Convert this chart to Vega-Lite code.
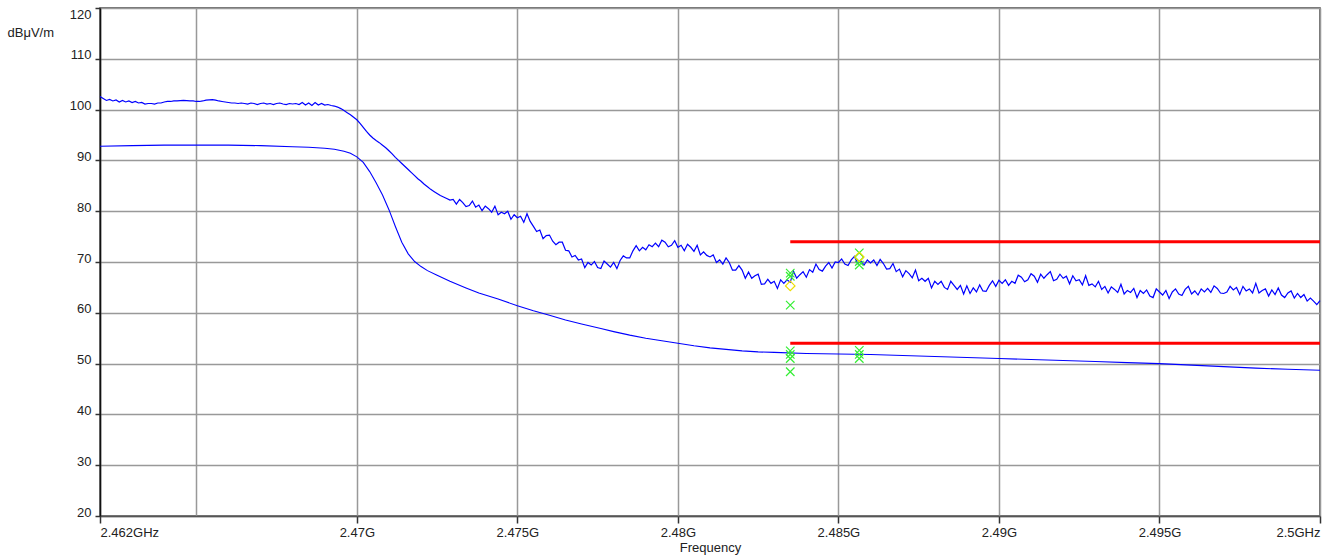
{
  "$schema": "https://vega.github.io/schema/vega-lite/v6.json",
  "width": 1220,
  "height": 508,
  "autosize": {"type": "none"},
  "padding": {"left": 100, "top": 8, "right": 13, "bottom": 43},
  "background": "white",
  "config": {
    "font": "Liberation Sans",
    "view": {"stroke": "#444", "strokeWidth": 1.5}
  },
  "datasets": {
    "pk": [
{"f":2.4620,"v":102.6},{"f":2.4621,"v":102.2},{"f":2.4622,"v":101.8},{"f":2.4623,"v":102.0},{"f":2.4624,"v":101.7},{"f":2.4625,"v":101.9},{"f":2.4626,"v":101.5},{"f":2.4627,"v":101.8},{"f":2.4628,"v":101.5},{"f":2.4629,"v":101.7},
{"f":2.4630,"v":101.4},{"f":2.4631,"v":101.6},{"f":2.4632,"v":101.3},{"f":2.4633,"v":101.4},{"f":2.4634,"v":101.1},{"f":2.4635,"v":101.2},{"f":2.4636,"v":101.2},{"f":2.4637,"v":101.1},{"f":2.4638,"v":101.3},{"f":2.4639,"v":101.3},
{"f":2.4640,"v":101.5},{"f":2.4641,"v":101.6},{"f":2.4642,"v":101.6},{"f":2.4643,"v":101.7},{"f":2.4644,"v":101.7},{"f":2.4645,"v":101.75},{"f":2.4646,"v":101.8},{"f":2.4647,"v":101.75},{"f":2.4648,"v":101.7},{"f":2.4649,"v":101.7},
{"f":2.4650,"v":101.6},{"f":2.4651,"v":101.6},{"f":2.4652,"v":101.7},{"f":2.4653,"v":101.85},{"f":2.4654,"v":101.9},{"f":2.4655,"v":101.95},{"f":2.4656,"v":101.85},{"f":2.4657,"v":101.7},{"f":2.4658,"v":101.6},{"f":2.4659,"v":101.5},
{"f":2.4660,"v":101.4},{"f":2.4661,"v":101.3},{"f":2.4662,"v":101.3},{"f":2.4663,"v":101.2},{"f":2.4664,"v":101.3},{"f":2.4665,"v":101.2},{"f":2.4666,"v":101.1},{"f":2.4667,"v":101.3},{"f":2.4668,"v":101.2},{"f":2.4669,"v":101.0},
{"f":2.4670,"v":101.2},{"f":2.4671,"v":101.3},{"f":2.4672,"v":101.1},{"f":2.4673,"v":101.2},{"f":2.4674,"v":101.0},{"f":2.4675,"v":101.2},{"f":2.4676,"v":101.3},{"f":2.4677,"v":101.1},{"f":2.4678,"v":101.0},{"f":2.4679,"v":101.2},
{"f":2.4680,"v":101.1},{"f":2.4681,"v":101.2},{"f":2.4682,"v":101.0},{"f":2.4683,"v":101.4},{"f":2.4684,"v":100.9},{"f":2.4685,"v":101.3},{"f":2.4686,"v":100.8},{"f":2.4687,"v":101.4},{"f":2.4688,"v":100.9},{"f":2.4689,"v":101.2},
{"f":2.4690,"v":100.9},{"f":2.4691,"v":101.0},{"f":2.4692,"v":100.8},{"f":2.4693,"v":100.7},{"f":2.4694,"v":100.5},{"f":2.4695,"v":100.2},{"f":2.4696,"v":99.8},{"f":2.4697,"v":99.4},{"f":2.4698,"v":99.0},{"f":2.4699,"v":98.5},
{"f":2.4700,"v":98.0},{"f":2.4701,"v":97.3},{"f":2.4702,"v":96.5},{"f":2.4703,"v":95.7},{"f":2.4704,"v":95.0},{"f":2.4705,"v":94.4},{"f":2.4706,"v":93.9},{"f":2.4707,"v":93.5},{"f":2.4708,"v":93.0},{"f":2.4709,"v":92.5},
{"f":2.4710,"v":91.9},{"f":2.4711,"v":91.3},{"f":2.4712,"v":90.6},{"f":2.4713,"v":90.0},{"f":2.4714,"v":89.4},{"f":2.4715,"v":88.8},{"f":2.4716,"v":88.2},{"f":2.4717,"v":87.6},{"f":2.4718,"v":87.0},{"f":2.4719,"v":86.4},
{"f":2.4720,"v":85.9},{"f":2.4721,"v":85.3},{"f":2.4722,"v":84.8},{"f":2.4723,"v":84.3},{"f":2.4724,"v":83.9},{"f":2.4725,"v":83.5},{"f":2.4726,"v":83.1},{"f":2.4727,"v":82.8},{"f":2.4728,"v":82.5},{"f":2.4729,"v":82.2},
{"f":2.4730,"v":82.3},{"f":2.4731,"v":81.4},{"f":2.4732,"v":82.3},{"f":2.4733,"v":81.7},{"f":2.4734,"v":80.9},{"f":2.4735,"v":81.1},{"f":2.4736,"v":82.0},{"f":2.4737,"v":80.8},{"f":2.4738,"v":81.2},{"f":2.4739,"v":80.1},
{"f":2.4740,"v":81.0},{"f":2.4741,"v":80.5},{"f":2.4742,"v":79.8},{"f":2.4743,"v":81.0},{"f":2.4744,"v":79.3},{"f":2.4745,"v":79.8},{"f":2.4746,"v":79.5},{"f":2.4747,"v":80.0},{"f":2.4748,"v":78.4},{"f":2.4749,"v":79.3},
{"f":2.4750,"v":78.7},{"f":2.4751,"v":79.0},{"f":2.4752,"v":77.8},{"f":2.4753,"v":79.5},{"f":2.4754,"v":78.0},{"f":2.4755,"v":77.0},{"f":2.4756,"v":76.0},{"f":2.4757,"v":76.3},{"f":2.4758,"v":74.6},{"f":2.4759,"v":75.2},
{"f":2.4760,"v":75.3},{"f":2.4761,"v":74.1},{"f":2.4762,"v":73.4},{"f":2.4763,"v":73.9},{"f":2.4764,"v":73.9},{"f":2.4765,"v":72.3},{"f":2.4766,"v":72.2},{"f":2.4767,"v":71.0},{"f":2.4768,"v":71.3},{"f":2.4769,"v":70.4},
{"f":2.4770,"v":70.6},{"f":2.4771,"v":68.9},{"f":2.4772,"v":69.9},{"f":2.4773,"v":69.4},{"f":2.4774,"v":70.1},{"f":2.4775,"v":68.9},{"f":2.4776,"v":68.7},{"f":2.4777,"v":70.2},{"f":2.4778,"v":69.6},{"f":2.4779,"v":69.0},
{"f":2.4780,"v":69.9},{"f":2.4781,"v":68.7},{"f":2.4782,"v":70.3},{"f":2.4783,"v":71.2},{"f":2.4784,"v":70.8},{"f":2.4785,"v":70.8},{"f":2.4786,"v":72.2},{"f":2.4787,"v":73.2},{"f":2.4788,"v":72.2},{"f":2.4789,"v":72.9},
{"f":2.4790,"v":72.4},{"f":2.4791,"v":73.4},{"f":2.4792,"v":73.0},{"f":2.4793,"v":73.7},{"f":2.4794,"v":73.0},{"f":2.4795,"v":74.3},{"f":2.4796,"v":73.9},{"f":2.4797,"v":73.0},{"f":2.4798,"v":73.3},{"f":2.4799,"v":74.2},
{"f":2.4800,"v":72.9},{"f":2.4801,"v":73.3},{"f":2.4802,"v":72.2},{"f":2.4803,"v":73.5},{"f":2.4804,"v":72.9},{"f":2.4805,"v":72.1},{"f":2.4806,"v":73.3},{"f":2.4807,"v":71.4},{"f":2.4808,"v":72.0},{"f":2.4809,"v":71.3},
{"f":2.4810,"v":71.0},{"f":2.4811,"v":71.4},{"f":2.4812,"v":69.9},{"f":2.4813,"v":70.4},{"f":2.4814,"v":69.6},{"f":2.4815,"v":70.8},{"f":2.4816,"v":69.9},{"f":2.4817,"v":68.4},{"f":2.4818,"v":68.4},{"f":2.4819,"v":69.3},
{"f":2.4820,"v":68.4},{"f":2.4821,"v":66.8},{"f":2.4822,"v":68.0},{"f":2.4823,"v":66.8},{"f":2.4824,"v":67.3},{"f":2.4825,"v":67.6},{"f":2.4826,"v":65.6},{"f":2.4827,"v":65.7},{"f":2.4828,"v":66.6},{"f":2.4829,"v":65.8},
{"f":2.4830,"v":66.2},{"f":2.4831,"v":64.8},{"f":2.4832,"v":66.5},{"f":2.4833,"v":65.8},{"f":2.4834,"v":66.5},{"f":2.4835,"v":66.0},{"f":2.4836,"v":68.2},{"f":2.4837,"v":66.8},{"f":2.4838,"v":67.5},{"f":2.4839,"v":68.1},
{"f":2.4840,"v":67.0},{"f":2.4841,"v":68.5},{"f":2.4842,"v":68.0},{"f":2.4843,"v":69.6},{"f":2.4844,"v":68.5},{"f":2.4845,"v":68.2},{"f":2.4846,"v":69.2},{"f":2.4847,"v":69.9},{"f":2.4848,"v":68.8},{"f":2.4849,"v":70.0},
{"f":2.4850,"v":69.9},{"f":2.4851,"v":70.6},{"f":2.4852,"v":69.6},{"f":2.4853,"v":69.3},{"f":2.4854,"v":70.4},{"f":2.4855,"v":71.1},{"f":2.4856,"v":69.7},{"f":2.4857,"v":70.2},{"f":2.4858,"v":69.4},{"f":2.4859,"v":70.4},
{"f":2.4860,"v":69.8},{"f":2.4861,"v":70.4},{"f":2.4862,"v":69.3},{"f":2.4863,"v":70.5},{"f":2.4864,"v":69.7},{"f":2.4865,"v":68.6},{"f":2.4866,"v":68.7},{"f":2.4867,"v":69.7},{"f":2.4868,"v":68.1},{"f":2.4869,"v":68.6},
{"f":2.4870,"v":67.1},{"f":2.4871,"v":68.3},{"f":2.4872,"v":67.7},{"f":2.4873,"v":66.9},{"f":2.4874,"v":68.4},{"f":2.4875,"v":66.3},{"f":2.4876,"v":66.8},{"f":2.4877,"v":66.2},{"f":2.4878,"v":66.8},{"f":2.4879,"v":64.9},
{"f":2.4880,"v":66.2},{"f":2.4881,"v":65.6},{"f":2.4882,"v":66.2},{"f":2.4883,"v":65.0},{"f":2.4884,"v":64.6},{"f":2.4885,"v":66.2},{"f":2.4886,"v":65.4},{"f":2.4887,"v":64.6},{"f":2.4888,"v":65.4},{"f":2.4889,"v":63.7},
{"f":2.4890,"v":65.3},{"f":2.4891,"v":63.8},{"f":2.4892,"v":64.9},{"f":2.4893,"v":64.1},{"f":2.4894,"v":65.5},{"f":2.4895,"v":64.3},{"f":2.4896,"v":64.2},{"f":2.4897,"v":65.4},{"f":2.4898,"v":66.3},{"f":2.4899,"v":65.2},
{"f":2.4900,"v":66.4},{"f":2.4901,"v":65.8},{"f":2.4902,"v":66.5},{"f":2.4903,"v":65.4},{"f":2.4904,"v":66.2},{"f":2.4905,"v":65.8},{"f":2.4906,"v":67.4},{"f":2.4907,"v":67.0},{"f":2.4908,"v":66.1},{"f":2.4909,"v":66.5},
{"f":2.4910,"v":67.7},{"f":2.4911,"v":67.2},{"f":2.4912,"v":66.0},{"f":2.4913,"v":67.6},{"f":2.4914,"v":66.8},{"f":2.4915,"v":67.5},{"f":2.4916,"v":68.1},{"f":2.4917,"v":66.3},{"f":2.4918,"v":66.6},{"f":2.4919,"v":67.6},
{"f":2.4920,"v":66.8},{"f":2.4921,"v":67.2},{"f":2.4922,"v":65.7},{"f":2.4923,"v":67.3},{"f":2.4924,"v":66.3},{"f":2.4925,"v":66.5},{"f":2.4926,"v":65.5},{"f":2.4927,"v":67.3},{"f":2.4928,"v":65.4},{"f":2.4929,"v":65.7},
{"f":2.4930,"v":65.1},{"f":2.4931,"v":66.2},{"f":2.4932,"v":64.6},{"f":2.4933,"v":65.2},{"f":2.4934,"v":63.9},{"f":2.4935,"v":65.1},{"f":2.4936,"v":64.6},{"f":2.4937,"v":64.0},{"f":2.4938,"v":65.6},{"f":2.4939,"v":63.7},
{"f":2.4940,"v":64.4},{"f":2.4941,"v":64.0},{"f":2.4942,"v":64.8},{"f":2.4943,"v":63.0},{"f":2.4944,"v":64.4},{"f":2.4945,"v":63.8},{"f":2.4946,"v":64.5},{"f":2.4947,"v":63.3},{"f":2.4948,"v":63.0},{"f":2.4949,"v":64.7},
{"f":2.4950,"v":64.1},{"f":2.4951,"v":63.5},{"f":2.4952,"v":64.4},{"f":2.4953,"v":62.8},{"f":2.4954,"v":64.1},{"f":2.4955,"v":64.7},{"f":2.4956,"v":63.7},{"f":2.4957,"v":63.4},{"f":2.4958,"v":64.6},{"f":2.4959,"v":65.2},
{"f":2.4960,"v":63.7},{"f":2.4961,"v":64.3},{"f":2.4962,"v":63.5},{"f":2.4963,"v":64.7},{"f":2.4964,"v":64.1},{"f":2.4965,"v":64.8},{"f":2.4966,"v":64.0},{"f":2.4967,"v":65.3},{"f":2.4968,"v":64.8},{"f":2.4969,"v":63.9},
{"f":2.4970,"v":63.8},{"f":2.4971,"v":64.1},{"f":2.4972,"v":65.2},{"f":2.4973,"v":64.5},{"f":2.4974,"v":65.0},{"f":2.4975,"v":63.6},{"f":2.4976,"v":65.2},{"f":2.4977,"v":64.3},{"f":2.4978,"v":64.7},{"f":2.4979,"v":63.9},
{"f":2.4980,"v":65.8},{"f":2.4981,"v":63.9},{"f":2.4982,"v":64.4},{"f":2.4983,"v":64.7},{"f":2.4984,"v":63.3},{"f":2.4985,"v":64.5},{"f":2.4986,"v":63.6},{"f":2.4987,"v":64.9},{"f":2.4988,"v":63.5},{"f":2.4989,"v":63.0},
{"f":2.4990,"v":63.9},{"f":2.4991,"v":64.3},{"f":2.4992,"v":62.9},{"f":2.4993,"v":63.8},{"f":2.4994,"v":63.0},{"f":2.4995,"v":63.6},{"f":2.4996,"v":62.3},{"f":2.4997,"v":62.9},{"f":2.4998,"v":62.3},{"f":2.4999,"v":61.6},
{"f":2.5000,"v":62.4}
    ],
    "av": [
{"f":2.4620,"v":92.8},{"f":2.4630,"v":92.9},{"f":2.4640,"v":93.0},{"f":2.4650,"v":93.0},{"f":2.4660,"v":93.0},{"f":2.4670,"v":92.9},{"f":2.4680,"v":92.7},{"f":2.4685,"v":92.6},{"f":2.4690,"v":92.4},{"f":2.4693,"v":92.2},{"f":2.4696,"v":91.8},{"f":2.4698,"v":91.4},
{"f":2.4700,"v":90.7},{"f":2.4702,"v":89.6},{"f":2.4704,"v":87.8},{"f":2.4706,"v":85.6},{"f":2.4708,"v":83.2},{"f":2.4710,"v":80.3},{"f":2.4712,"v":77.0},{"f":2.4714,"v":73.9},{"f":2.4716,"v":71.6},{"f":2.4718,"v":70.1},
{"f":2.4720,"v":69.1},{"f":2.4722,"v":68.3},{"f":2.4725,"v":67.4},{"f":2.4729,"v":66.2},{"f":2.4734,"v":64.9},{"f":2.4738,"v":63.9},{"f":2.4744,"v":62.7},{"f":2.4750,"v":61.4},{"f":2.4755,"v":60.4},{"f":2.4760,"v":59.5},
{"f":2.4765,"v":58.6},{"f":2.4770,"v":57.8},{"f":2.4776,"v":56.9},{"f":2.4780,"v":56.3},{"f":2.4785,"v":55.6},{"f":2.4790,"v":55.0},{"f":2.4795,"v":54.5},{"f":2.4800,"v":54.0},{"f":2.4805,"v":53.5},{"f":2.4810,"v":53.1},
{"f":2.4815,"v":52.8},{"f":2.4820,"v":52.5},{"f":2.4825,"v":52.3},{"f":2.4830,"v":52.2},{"f":2.4840,"v":52.0},{"f":2.4850,"v":51.9},{"f":2.4860,"v":51.8},{"f":2.4870,"v":51.6},{"f":2.4880,"v":51.4},{"f":2.4890,"v":51.2},
{"f":2.4900,"v":51.0},{"f":2.4910,"v":50.8},{"f":2.4920,"v":50.6},{"f":2.4930,"v":50.4},{"f":2.4940,"v":50.2},{"f":2.4950,"v":50.0},{"f":2.4960,"v":49.7},{"f":2.4970,"v":49.4},{"f":2.4980,"v":49.1},{"f":2.4990,"v":48.9},{"f":2.5000,"v":48.7}
    ],
    "lim": [
      {"f":2.4835,"f2":2.5,"v":74},
      {"f":2.4835,"f2":2.5,"v":54}
    ],
    "mk": [
      {"f":2.4835,"v":67.8},{"f":2.4835,"v":67.2},{"f":2.4835,"v":61.5},{"f":2.4835,"v":52.5},{"f":2.4835,"v":51.8},{"f":2.4835,"v":51.0},{"f":2.4835,"v":48.4},
      {"f":2.48565,"v":71.8},{"f":2.48565,"v":70.1},{"f":2.48565,"v":69.4},{"f":2.48565,"v":52.6},{"f":2.48565,"v":51.8},{"f":2.48565,"v":51.0}
    ],
    "dm": [
      {"f":2.4835,"v":65.3},{"f":2.48565,"v":71.0}
    ]
  },
  "encoding": {
    "x": {
      "field": "f",
      "type": "quantitative",
      "scale": {"domain": [2.462, 2.5], "nice": false, "zero": false},
      "axis": {
        "values": [2.462, 2.465, 2.47, 2.475, 2.48, 2.485, 2.49, 2.495, 2.5],
        "labelExpr": "datum.value < 2.4625 ? '2.462GHz' : (abs(datum.value - 2.465) < 0.0001 ? '' : (datum.value > 2.4995 ? '2.5GHz' : format(datum.value, '.3~f') + 'G'))",
        "labelFlush": true,
        "labelOverlap": false,
        "labelFontSize": 13,
        "labelColor": "#222",
        "labelPadding": 3,
        "tickSize": 7,
        "tickColor": "#333",
        "tickWidth": 1.5,
        "tickOpacity": {"condition": {"test": "abs(datum.value - 2.465) < 0.0001", "value": 0}, "value": 1},
        "gridColor": "#999",
        "gridWidth": 1.5,
        "domainColor": "#555",
        "domainWidth": 1.5,
        "title": "Frequency",
        "titleFontSize": 13,
        "titleFontWeight": "normal",
        "titleColor": "#222",
        "titlePadding": 2
      }
    },
    "y": {
      "field": "v",
      "type": "quantitative",
      "scale": {"domain": [20, 120], "nice": false, "zero": false},
      "axis": {
        "values": [20, 30, 40, 50, 60, 70, 80, 90, 100, 110, 120],
        "labelFlush": false,
        "labelOverlap": false,
        "labelFontSize": 13,
        "labelColor": "#222",
        "labelPadding": 4,
        "labelBaseline": {"condition": {"test": "datum.value == 120", "value": "top"}, "value": "alphabetic"},
        "tickSize": 5,
        "tickColor": "#333",
        "tickWidth": 1.5,
        "gridColor": "#999",
        "gridWidth": 1.5,
        "domainColor": "#111",
        "domainWidth": 1.5,
        "title": "dBμV/m",
        "titleAngle": 0,
        "titleAlign": "left",
        "titleBaseline": "middle",
        "titleX": -93,
        "titleY": 24,
        "titleFontSize": 13,
        "titleFontWeight": "normal",
        "titleColor": "#222"
      }
    }
  },
  "layer": [
    {"data": {"name": "pk"}, "mark": {"type": "line", "color": "#0000ff", "strokeWidth": 1.2}},
    {"data": {"name": "av"}, "mark": {"type": "line", "color": "#0000ff", "strokeWidth": 1.1}},
    {"data": {"name": "lim"}, "mark": {"type": "rule", "color": "#ff0000", "strokeWidth": 3}, "encoding": {"x2": {"field": "f2"}}},
    {"data": {"name": "mk"}, "mark": {"type": "point", "shape": "M-1,-1L1,1M1,-1L-1,1", "size": 72, "filled": false, "color": "#33ee33", "strokeWidth": 1.2, "opacity": 1}},
    {"data": {"name": "dm"}, "mark": {"type": "point", "shape": "diamond", "size": 90, "filled": false, "color": "#eedd00", "strokeWidth": 1.2, "opacity": 1}}
  ]
}
